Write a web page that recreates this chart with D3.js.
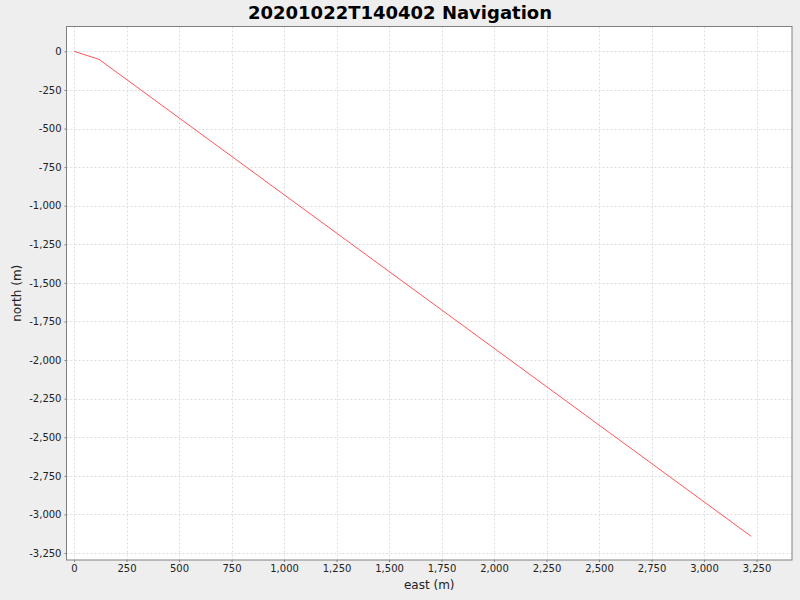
<!DOCTYPE html>
<html>
<head>
<meta charset="utf-8">
<script src="https://cdn.jsdelivr.net/npm/d3@7"></script>
<style>
  html, body { margin: 0; padding: 0; background: #eeeeee; }
  svg { display: block; font-family: "DejaVu Sans", sans-serif; }
</style>
</head>
<body>
<svg id="chart" width="800" height="600"></svg>
<script>
// track points
const eastM = [0, 119, 3225];
const northM = [0, -52, -3142];
const xTicks = [0, 250, 500, 750, 1000, 1250, 1500, 1750, 2000, 2250, 2500, 2750, 3000, 3250];
const yTicks = [0, -250, -500, -750, -1000, -1250, -1500, -1750, -2000, -2250, -2500, -2750, -3000, -3250];

const width = 800;
const height = 600;
const margin = { top: 26.5, right: 8, bottom: 40, left: 66.5 };

const svg = d3.select('#chart');

svg.append('rect')
  .attr('width', width)
  .attr('height', height)
  .attr('fill', '#eeeeee');

const x = d3.scaleLinear()
  .domain([-36, 3419])
  .range([margin.left, width - margin.right]);

const y = d3.scaleLinear()
  .domain([-3295, 161])
  .range([height - margin.bottom, margin.top]);

const plotW = width - margin.right - margin.left;
const plotH = height - margin.bottom - margin.top;

svg.append('rect')
  .attr('x', margin.left)
  .attr('y', margin.top)
  .attr('width', plotW)
  .attr('height', plotH)
  .attr('fill', '#ffffff');

// grid lines
const grid = svg.append('g')
  .attr('stroke', '#dedede')
  .attr('stroke-width', 1)
  .attr('stroke-dasharray', '2,2');

grid.selectAll('.vx')
  .data(xTicks)
  .enter()
  .append('line')
  .attr('x1', d => Math.round(x(d)) + 0.5)
  .attr('x2', d => Math.round(x(d)) + 0.5)
  .attr('y1', margin.top)
  .attr('y2', height - margin.bottom);

grid.selectAll('.hy')
  .data(yTicks)
  .enter()
  .append('line')
  .attr('y1', d => Math.round(y(d)) + 0.5)
  .attr('y2', d => Math.round(y(d)) + 0.5)
  .attr('x1', margin.left)
  .attr('x2', width - margin.right);

// the track
const line = d3.line()
  .x(d => x(d[0]))
  .y(d => y(d[1]));

svg.append('path')
  .datum(eastM.map((e, i) => [e, northM[i]]))
  .attr('d', line)
  .attr('fill', 'none')
  .attr('stroke', '#ff5555')
  .attr('stroke-width', 1);

// axes (plain hyphen for negatives, like the original)
const comma = d3.format(',');
const fmt = d => comma(d).replace('\u2212', '-');

const xAxis = svg.append('g')
  .attr('transform', `translate(0, ${height - margin.bottom})`)
  .call(d3.axisBottom(x).tickValues(xTicks).tickFormat(fmt).tickSize(2).tickPadding(3));

const yAxis = svg.append('g')
  .attr('transform', `translate(${margin.left}, 0)`)
  .call(d3.axisLeft(y).tickValues(yTicks).tickFormat(fmt).tickSize(2).tickPadding(3));

[xAxis, yAxis].forEach(a => {
  a.select('.domain').remove();
  a.selectAll('.tick line').attr('stroke', '#808080');
  a.selectAll('.tick text')
    .attr('fill', '#222222')
    .style('font-size', '10px')
    .style('font-family', '"DejaVu Sans", sans-serif');
});

// plot outline
svg.append('rect')
  .attr('x', margin.left)
  .attr('y', margin.top)
  .attr('width', plotW)
  .attr('height', plotH)
  .attr('fill', 'none')
  .attr('stroke', '#808080')
  .attr('stroke-width', 1);

// title and labels
svg.append('text')
  .attr('x', width / 2)
  .attr('y', 19)
  .attr('text-anchor', 'middle')
  .style('font-size', '18px')
  .style('font-weight', 'bold')
  .style('fill', '#000')
  .text('20201022T140402 Navigation');

svg.append('text')
  .attr('x', margin.left + plotW / 2)
  .attr('y', 589)
  .attr('text-anchor', 'middle')
  .style('font-size', '12px')
  .style('fill', '#222')
  .text('east (m)');

svg.append('text')
  .attr('transform', `translate(21, ${margin.top + plotH / 2}) rotate(-90)`)
  .attr('text-anchor', 'middle')
  .style('font-size', '12px')
  .style('fill', '#222')
  .text('north (m)');
</script>
</body>
</html>
